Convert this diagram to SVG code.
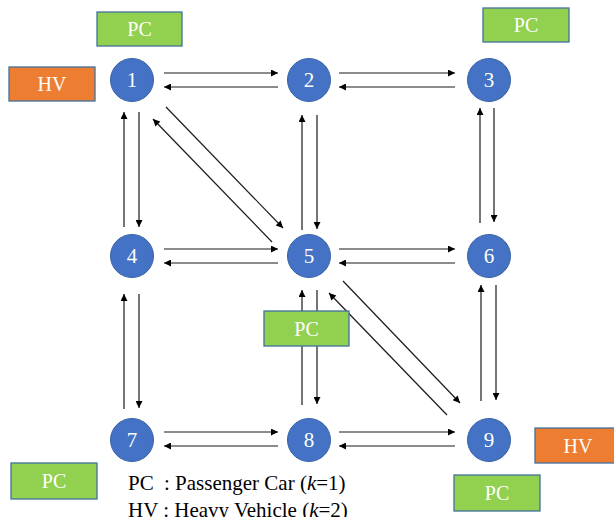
<svg xmlns="http://www.w3.org/2000/svg" width="614" height="517" viewBox="0 0 614 517">
<style>
.c line{stroke:#1a1a1a;stroke-width:1.2;fill:none;marker-end:url(#ah)}
.n circle{fill:#4472C4;stroke:#3A62A8;stroke-width:1}
.n text{fill:#fff;font-family:"Liberation Serif",serif;font-size:21px;text-anchor:middle}
.pc rect{fill:#92D050;stroke:#41719C;stroke-width:1.3}
.hv rect{fill:#ED7D31;stroke:#41719C;stroke-width:1.3}
.lb text{fill:#fff;font-family:"Liberation Serif",serif;font-size:20px;text-anchor:middle}
.lg{fill:#000;font-family:"Liberation Serif",serif;font-size:21px}
</style>
<defs>
<marker id="ah" viewBox="0 0 10 10" refX="10" refY="5" markerWidth="9" markerHeight="7" markerUnits="userSpaceOnUse" orient="auto">
<path d="M0,0 L10,5 L0,10 z" fill="#000"/>
</marker>
</defs>
<rect width="614" height="517" fill="#fff"/>
<g id="connectors" class="c">
<line x1="164" y1="73" x2="278" y2="73"/>
<line x1="278" y1="87" x2="164" y2="87"/>
<line x1="339" y1="73" x2="455" y2="73"/>
<line x1="455" y1="87" x2="339" y2="87"/>
<line x1="164" y1="249" x2="278" y2="249"/>
<line x1="278" y1="263" x2="164" y2="263"/>
<line x1="339" y1="249" x2="455" y2="249"/>
<line x1="455" y1="263" x2="339" y2="263"/>
<line x1="164" y1="432" x2="278" y2="432"/>
<line x1="278" y1="446" x2="164" y2="446"/>
<line x1="339" y1="432" x2="455" y2="432"/>
<line x1="455" y1="446" x2="339" y2="446"/>
<line x1="124" y1="227" x2="124" y2="112"/>
<line x1="139" y1="112" x2="139" y2="227"/>
<line x1="302" y1="230" x2="302" y2="115"/>
<line x1="317" y1="115" x2="317" y2="229"/>
<line x1="480" y1="223" x2="480" y2="108"/>
<line x1="494" y1="108" x2="494" y2="222"/>
<line x1="124" y1="409" x2="124" y2="294"/>
<line x1="139" y1="294" x2="139" y2="408"/>
<line x1="302" y1="405" x2="302" y2="290"/>
<line x1="317" y1="290" x2="317" y2="404"/>
<line x1="481" y1="401" x2="481" y2="285"/>
<line x1="496" y1="285" x2="496" y2="400"/>
<line x1="166" y1="107" x2="283" y2="228"/>
<line x1="272" y1="242" x2="153" y2="119"/>
<line x1="343" y1="281" x2="460" y2="403"/>
<line x1="447" y1="415" x2="329" y2="293"/>
</g>
<g id="node1" class="n"><circle cx="132" cy="80" r="21.5"/><text x="132" y="87">1</text></g>
<g id="node2" class="n"><circle cx="309" cy="80" r="21.5"/><text x="309" y="87">2</text></g>
<g id="node3" class="n"><circle cx="489" cy="80" r="21.5"/><text x="489" y="87">3</text></g>
<g id="node4" class="n"><circle cx="132" cy="256" r="21.5"/><text x="132" y="263">4</text></g>
<g id="node5" class="n"><circle cx="309" cy="256" r="21.5"/><text x="309" y="263">5</text></g>
<g id="node6" class="n"><circle cx="489" cy="256" r="21.5"/><text x="489" y="263">6</text></g>
<g id="node7" class="n"><circle cx="132" cy="440" r="21.5"/><text x="132" y="447">7</text></g>
<g id="node8" class="n"><circle cx="309" cy="440" r="21.5"/><text x="309" y="447">8</text></g>
<g id="node9" class="n"><circle cx="489" cy="440" r="21.5"/><text x="489" y="447">9</text></g>
<g id="pc1" class="lb pc"><rect x="97" y="12" width="85" height="34"/><text x="139.5" y="36">PC</text></g>
<g id="hv1" class="lb hv"><rect x="9" y="67" width="86" height="34"/><text x="52" y="91">HV</text></g>
<g id="pc3" class="lb pc"><rect x="483" y="8" width="86" height="34"/><text x="526" y="32">PC</text></g>
<g id="pc5" class="lb pc"><rect x="264" y="311" width="85" height="35"/><text x="306.5" y="335.5">PC</text></g>
<g id="pc7" class="lb pc"><rect x="11" y="463" width="86" height="36"/><text x="54" y="488">PC</text></g>
<g id="hv9" class="lb hv"><rect x="535" y="428" width="86" height="35"/><text x="578" y="452.5">HV</text></g>
<g id="pc9" class="lb pc"><rect x="454" y="475" width="86" height="36"/><text x="497" y="500">PC</text></g>
<g id="legend">
<text class="lg" x="128" y="490">PC<tspan x="164">: Passenger Car (</tspan><tspan font-style="italic">k</tspan>=1)</text>
<text class="lg" x="128" y="517">HV : Heavy Vehicle (<tspan font-style="italic">k</tspan>=2)</text>
</g>
</svg>
